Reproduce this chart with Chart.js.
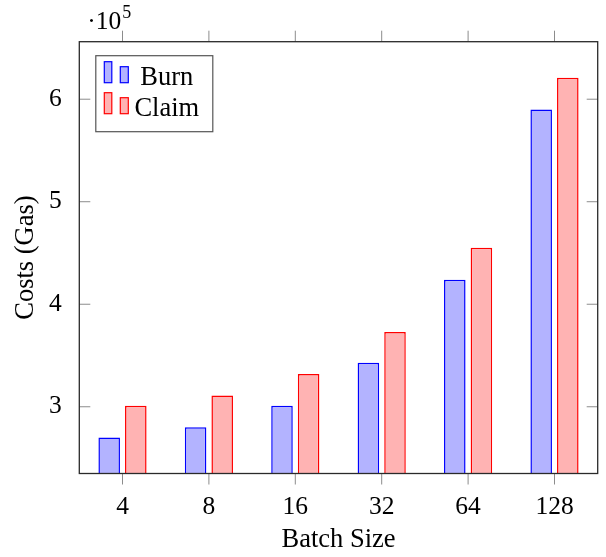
<!DOCTYPE html>
<html>
<head>
<meta charset="utf-8">
<script src="https://cdn.jsdelivr.net/npm/chart.js@4.4.1/dist/chart.umd.min.js"></script>
<style>
  html, body { margin: 0; padding: 0; background: #fff; }
  #c { display: block; }
</style>
</head>
<body>
<canvas id="c" width="606" height="557"></canvas>
<script>
// Gas costs per batch size
const batchSizes = ['4', '8', '16', '32', '64', '128'];
const burnGas  = [270000, 280000, 301000, 343000, 424000, 590000];
const claimGas = [301000, 311000, 332000, 373000, 455000, 621000];
const yTickValues = [300000, 400000, 500000, 600000];
const yExponent = 5;
const yMin = 234900;
const yMax = 656100;

const SERIF = '"Liberation Serif", "Times New Roman", serif';
const TEXT_SIZE = 26.5;
const TICK_SIZE = 25.5;

// Frame, inward/outward tick marks, axis multiplier and the legend
const framePlugin = {
  id: 'frameTicksLegend',
  afterDraw(chart) {
    const { ctx, chartArea: a, scales: { x, y } } = chart;
    const line = (x1, y1, x2, y2) => { ctx.beginPath(); ctx.moveTo(x1, y1); ctx.lineTo(x2, y2); ctx.stroke(); };
    ctx.save();

    // tick marks
    ctx.strokeStyle = '#8c8c8c';
    ctx.lineWidth = 1;
    yTickValues.forEach(v => {
      const py = y.getPixelForValue(v);
      line(a.left, py, a.left + 11, py);
      line(a.right - 11, py, a.right, py);
    });
    x.ticks.forEach((t, i) => {
      const px = x.getPixelForTick(i);
      line(px, a.bottom, px, a.bottom + 11);
      line(px, a.top - 11, px, a.top);
    });

    // frame
    ctx.strokeStyle = '#2a2a2a';
    ctx.lineWidth = 1.3;
    ctx.strokeRect(a.left, a.top, a.right - a.left, a.bottom - a.top);

    // axis multiplier
    ctx.fillStyle = '#000';
    ctx.textBaseline = 'alphabetic';
    ctx.textAlign = 'left';
    ctx.font = TICK_SIZE + 'px ' + SERIF;
    const base = '\u00B710';
    ctx.fillText(base, a.left + 8, 29);
    const w = ctx.measureText(base).width;
    ctx.font = '18px ' + SERIF;
    ctx.fillText(String(yExponent), a.left + 8 + w + 1, 18);

    // legend
    const lx = a.left + 16.5, ly = a.top + 14, lw = 117, lh = 76;
    ctx.fillStyle = '#fff';
    ctx.fillRect(lx, ly, lw, lh);
    ctx.strokeStyle = '#555';
    ctx.lineWidth = 1.2;
    ctx.strokeRect(lx, ly, lw, lh);
    chart.data.datasets.forEach((ds, i) => {
      const rowBase = ly + 27 + i * 31;
      ctx.fillStyle = ds.backgroundColor;
      ctx.strokeStyle = ds.borderColor;
      ctx.lineWidth = 1.2;
      // two small bars
      ctx.fillRect(lx + 8.5, rowBase - 21, 7.5, 21);
      ctx.strokeRect(lx + 8.5, rowBase - 21, 7.5, 21);
      ctx.fillRect(lx + 24.5, rowBase - 16, 8, 16);
      ctx.strokeRect(lx + 24.5, rowBase - 16, 8, 16);
      ctx.fillStyle = '#000';
      ctx.font = TEXT_SIZE + 'px ' + SERIF;
      ctx.textAlign = 'center';
      ctx.fillText(ds.label, lx + 71, rowBase + 2.5);
    });
    ctx.restore();
  }
};

new Chart(document.getElementById('c'), {
  type: 'bar',
  data: {
    labels: batchSizes,
    datasets: [
      {
        label: 'Burn',
        data: burnGas,
        backgroundColor: 'rgb(179,179,255)',
        borderColor: 'rgb(0,0,255)',
        borderWidth: 1.5,
        categoryPercentage: 0.616,
        barPercentage: 0.81
      },
      {
        label: 'Claim',
        data: claimGas,
        backgroundColor: 'rgb(255,179,179)',
        borderColor: 'rgb(255,0,0)',
        borderWidth: 1.5,
        categoryPercentage: 0.616,
        barPercentage: 0.81
      }
    ]
  },
  options: {
    responsive: false,
    animation: false,
    devicePixelRatio: 1,
    layout: { padding: { top: 41.7, right: 8.3, left: 0, bottom: 0 } },
    plugins: {
      legend: { display: false },
      tooltip: { enabled: false }
    },
    scales: {
      x: {
        type: 'category',
        offset: true,
        grid: { display: false, drawTicks: false },
        border: { display: false },
        ticks: { color: '#000', padding: 18, font: { family: SERIF, size: TICK_SIZE }, maxRotation: 0 },
        title: { display: true, text: 'Batch Size', color: '#000', font: { family: SERIF, size: TEXT_SIZE }, padding: { top: 0, bottom: 1 } },
        afterFit(s) { s.height = 83.5; }
      },
      y: {
        type: 'linear',
        min: yMin,
        max: yMax,
        grid: { display: false, drawTicks: false },
        border: { display: false },
        afterBuildTicks(s) { s.ticks = yTickValues.map(v => ({ value: v })); },
        ticks: {
          color: '#000',
          padding: 17.5,
          font: { family: SERIF, size: TICK_SIZE },
          callback: v => String(v / Math.pow(10, yExponent))
        },
        title: { display: true, text: 'Costs (Gas)', color: '#000', font: { family: SERIF, size: TEXT_SIZE }, padding: { top: 10, bottom: 0 } },
        afterFit(s) { s.width = 79.3; }
      }
    }
  },
  plugins: [framePlugin]
});
</script>
</body>
</html>
